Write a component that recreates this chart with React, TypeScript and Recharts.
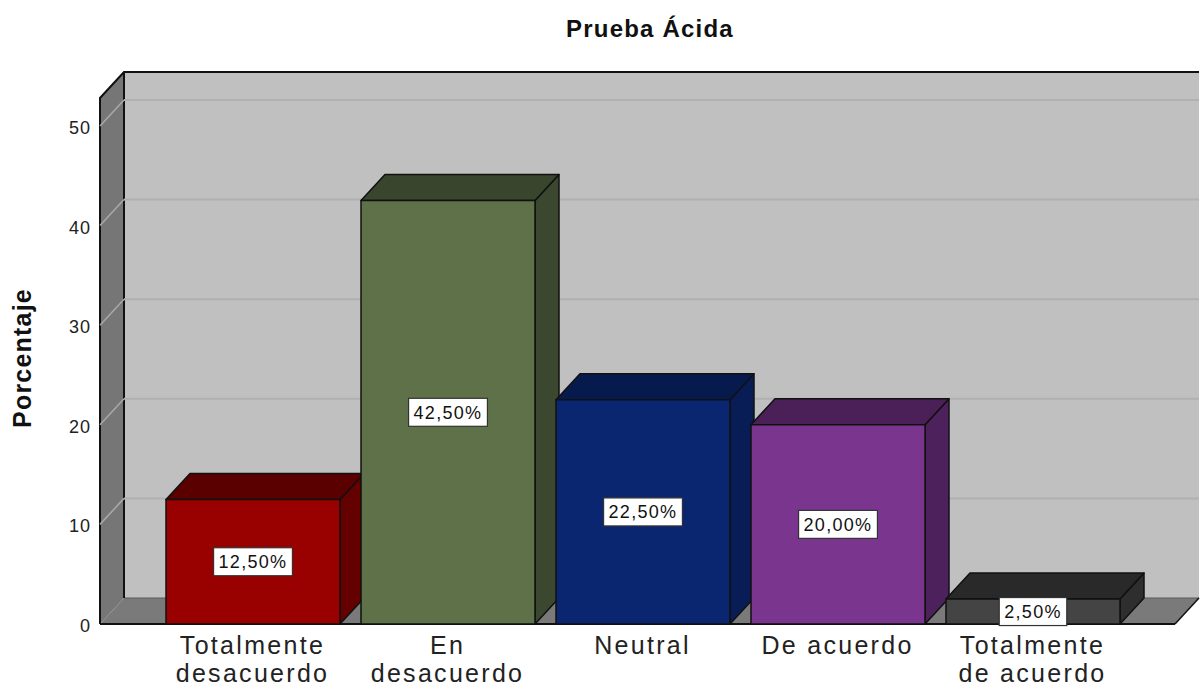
import React from "react";
import {
  BarChart,
  Bar,
  XAxis,
  YAxis,
  ReferenceArea,
  ReferenceLine,
  LabelList,
} from "recharts";

// categories and values
const categories = [
  "Totalmente desacuerdo",
  "En desacuerdo",
  "Neutral",
  "De acuerdo",
  "Totalmente de acuerdo",
];
const tickLines = [
  ["Totalmente", "desacuerdo"],
  ["En", "desacuerdo"],
  ["Neutral"],
  ["De acuerdo"],
  ["Totalmente", "de acuerdo"],
];
const percentages = [12.5, 42.5, 22.5, 20.0, 2.5];
const yTicks = [0, 10, 20, 30, 40, 50];
const gridValues = [10, 20, 30, 40, 50];

const frontColors = ["#990000", "#5e7149", "#0b2670", "#7a358f", "#444444"];
const topColors = ["#5a0000", "#39452c", "#071a4e", "#4b2058", "#292929"];
const sideColors = ["#640000", "#3b472e", "#081c55", "#4d215c", "#2e2e2e"];

const data = categories.map((name, i) => ({ name, value: percentages[i] }));

// 3D depth offset
const DX = 24;
const DY = -26;

const font = "Arial, 'Liberation Sans', sans-serif";

function Walls(props: any) {
  const { x, y, width, height } = props;
  const l = x;
  const t = y;
  const r = x + width;
  const b = y + height;
  return (
    <g>
      <polygon
        points={`${l + DX},${t + DY} ${r + DX},${t + DY} ${r + DX},${b + DY} ${l + DX},${b + DY}`}
        fill="#c0c0c0"
      />
      <polygon
        points={`${l},${t} ${l + DX},${t + DY} ${l + DX},${b + DY} ${l},${b}`}
        fill="#767676"
      />
      <polygon
        points={`${l},${b} ${l + DX},${b + DY} ${r + DX},${b + DY} ${r},${b}`}
        fill="#7a7a7a"
      />
      <line x1={l + DX} y1={b + DY} x2={r + DX} y2={b + DY} stroke="#5a5a5a" strokeWidth={1} />
      <polyline
        points={`${l},${b} ${l},${t} ${l + DX},${t + DY} ${r + DX},${t + DY}`}
        fill="none"
        stroke="#111"
        strokeWidth={2}
      />
      <line x1={l + DX} y1={t + DY} x2={l + DX} y2={b + DY} stroke="#111" strokeWidth={2} />
      <line x1={l} y1={b} x2={r} y2={b} stroke="#111" strokeWidth={2} />
      <line x1={r} y1={b} x2={r + DX} y2={b + DY} stroke="#111" strokeWidth={1.5} />
    </g>
  );
}

function GridLine(props: any) {
  const { x1, y1, x2 } = props;
  return (
    <g>
      <line x1={x1} y1={y1} x2={x1 + DX} y2={y1 + DY} stroke="#a9a9a9" strokeWidth={1.5} />
      <line x1={x1 + DX} y1={y1 + DY} x2={x2 + DX} y2={y1 + DY} stroke="#b0b0b0" strokeWidth={2} />
    </g>
  );
}

function Bar3D(props: any) {
  const { x, y, width, height, index } = props;
  const r = x + width;
  const b = y + height;
  return (
    <g stroke="#111" strokeWidth={1.5} strokeLinejoin="round">
      <polygon
        points={`${r},${y} ${r + DX},${y + DY} ${r + DX},${b + DY} ${r},${b}`}
        fill={sideColors[index]}
      />
      <polygon
        points={`${x},${y} ${x + DX},${y + DY} ${r + DX},${y + DY} ${r},${y}`}
        fill={topColors[index]}
      />
      <rect x={x} y={y} width={width} height={height} fill={frontColors[index]} />
    </g>
  );
}

function textWidth(s: string) {
  let w = 0;
  for (const c of s) {
    if (c === ",") w += 0.278 * 18 + 1.3;
    else if (c === "%") w += 0.889 * 18 + 1.3;
    else w += 0.556 * 18 + 1.3;
  }
  return w;
}

function ValueLabel(props: any) {
  const { x, y, width, height, value } = props;
  const text = `${Number(value).toFixed(2).replace(".", ",")}%`;
  const cx = x + width / 2;
  const cy = y + height / 2;
  const w = textWidth(text) + 10;
  return (
    <g>
      <rect x={cx - w / 2} y={cy - 14} width={w} height={28} fill="#fff" stroke="#333" strokeWidth={1.2} />
      <text
        x={cx}
        y={cy + 6.5}
        textAnchor="middle"
        fontFamily={font}
        fontSize={18}
        letterSpacing={1.3}
        fill="#111"
      >
        {text}
      </text>
    </g>
  );
}

function XTick(props: any) {
  const { x, y, index } = props;
  const lines = tickLines[index] || [];
  return (
    <g>
      {lines.map((ln, i) => (
        <text
          key={i}
          x={x}
          y={y + 30 + i * 28}
          textAnchor="middle"
          fontFamily={font}
          fontSize={25}
          letterSpacing={2.3}
          fill="#222"
        >
          {ln}
        </text>
      ))}
    </g>
  );
}

function YTick(props: any) {
  const { x, y, payload } = props;
  return (
    <text
      x={x - 9}
      y={y + 8}
      textAnchor="end"
      fontFamily={font}
      fontSize={18}
      letterSpacing={1}
      fill="#222"
    >
      {payload.value}
    </text>
  );
}

function YLabel(props: any) {
  const vb = props.viewBox || { x: 40, y: 98, width: 60, height: 526 };
  const cy = vb.y + vb.height / 2 - 3;
  return (
    <text
      x={31}
      y={cy}
      transform={`rotate(-90, 31, ${cy})`}
      textAnchor="middle"
      fontFamily={font}
      fontSize={25}
      fontWeight="bold"
      letterSpacing={1.2}
      fill="#111"
    >
      Porcentaje
    </text>
  );
}

export default function App() {
  return (
    <div style={{ position: "relative", width: 1200, height: 686, background: "#fff" }}>
      <style>{`body{margin:0;}`}</style>
      <div
        style={{
          position: "absolute",
          top: 17,
          left: 500,
          width: 300,
          textAlign: "center",
          fontFamily: font,
          fontWeight: "bold",
          fontSize: 24,
          lineHeight: "24px",
          letterSpacing: 1.2,
          color: "#111",
        }}
      >
        Prueba Ácida
      </div>
      <BarChart
        width={1200}
        height={686}
        data={data}
        margin={{ top: 98, right: 25, bottom: 0, left: 40 }}
        barSize={174}
      >
        <XAxis
          dataKey="name"
          height={62}
          axisLine={false}
          tickLine={false}
          tickSize={0}
          tickMargin={0}
          padding={{ left: 55, right: 45 }}
          interval={0}
          tick={<XTick />}
        />
        {/* hidden unpadded axis spanning the whole plot, used for the walls */}
        <XAxis xAxisId="wall" dataKey="name" hide />
        <YAxis
          width={60}
          domain={[0, 52.8]}
          ticks={yTicks}
          axisLine={false}
          tickLine={false}
          tickSize={0}
          tickMargin={0}
          tick={<YTick />}
          label={<YLabel />}
        />
        <ReferenceArea
          xAxisId="wall"
          y1={0}
          y2={52.8}
          shape={<Walls />}
          zIndex={-100}
          ifOverflow="visible"
        />
        {gridValues.map((v) => (
          <ReferenceLine
            key={v}
            xAxisId="wall"
            y={v}
            shape={<GridLine />}
            zIndex={-90}
            ifOverflow="visible"
          />
        ))}
        <Bar dataKey="value" shape={<Bar3D />} isAnimationActive={false}>
          <LabelList dataKey="value" content={<ValueLabel />} />
        </Bar>
      </BarChart>
    </div>
  );
}
